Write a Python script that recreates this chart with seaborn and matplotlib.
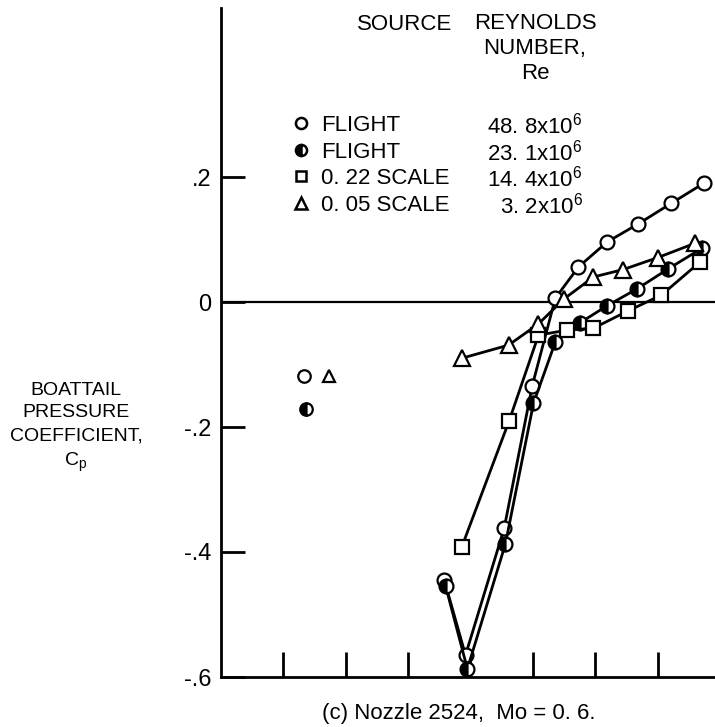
import numpy as np
import pandas as pd
import seaborn as sns
import matplotlib
matplotlib.use("Agg")
import matplotlib.pyplot as plt
from matplotlib.lines import Line2D

# ---------------- data ----------------
# horizontal position in tick units (ticks at 1..7), Cp on vertical axis
x_fl488 = [3.58, 3.92, 4.54, 4.99, 5.36, 5.73, 6.19, 6.69, 7.22, 7.74]
cp_fl488 = [-0.445, -0.565, -0.362, -0.134, 0.006, 0.056, 0.096, 0.125, 0.158, 0.190]

x_fl231 = [3.60, 3.95, 4.56, 5.01, 5.36, 5.76, 6.19, 6.67, 7.17, 7.71]
cp_fl231 = [-0.454, -0.587, -0.387, -0.162, -0.064, -0.033, -0.006, 0.021, 0.053, 0.086]

x_s022 = [3.86, 4.62, 5.09, 5.55, 5.97, 6.53, 7.06, 7.68]
cp_s022 = [-0.392, -0.190, -0.053, -0.045, -0.042, -0.014, 0.011, 0.064]

x_s005 = [3.86, 4.61, 5.09, 5.50, 5.97, 6.45, 7.00, 7.60]
cp_s005 = [-0.090, -0.069, -0.035, 0.005, 0.040, 0.052, 0.071, 0.094]

# isolated points at left
x_iso_fl488 = [1.33]
cp_iso_fl488 = [-0.118]
x_iso_fl231 = [1.36]
cp_iso_fl231 = [-0.171]
x_iso_s005 = [1.73]
cp_iso_s005 = [-0.118]

sources = ["FLIGHT", "FLIGHT", "0. 22 SCALE", "0. 05 SCALE"]
reynolds = ["48. 8x10$^6$", "23. 1x10$^6$", "14. 4x10$^6$", "3. 2x10$^6$"]

x_ticks = [1, 2, 3, 4, 5, 6, 7]
y_ticks = [0.2, 0.0, -0.2, -0.4, -0.6]
y_ticklabels = [".2", "0", "-.2", "-.4", "-.6"]

# ---------------- styling ----------------
sns.set_theme(style="white")
plt.rcParams['font.family'] = ['Liberation Sans', 'DejaVu Sans']
plt.rcParams['mathtext.fontset'] = 'custom'
plt.rcParams['mathtext.rm'] = 'Liberation Sans'
plt.rcParams['mathtext.it'] = 'Liberation Sans'
plt.rcParams['mathtext.bf'] = 'Liberation Sans'
FS = 16

W, H = 715, 727
fig = plt.figure(figsize=(W / 100, H / 100), dpi=100)
ax_left, ax_right, ax_bottom, ax_top = 221, 715, 677, 8
ax = fig.add_axes([ax_left / W, 1 - ax_bottom / H,
                   (ax_right - ax_left) / W, (ax_bottom - ax_top) / H])

ax.set_xlim(0.0, (ax_right - 220) / 62.5)
ax.set_ylim(-0.6, (302 - ax_top) / 625)

LW = 2.0
MS = 10
MEW = 1.6

common = dict(ax=ax, sort=False, estimator=None, color="black", lw=LW,
              ms=MS, mec="black", mew=MEW, clip_on=False, zorder=3)

sns.lineplot(x=x_fl488, y=cp_fl488, marker="o", mfc="white", **common)
sns.lineplot(x=x_fl231, y=cp_fl231, marker="o", mfc="black",
             fillstyle="left", markerfacecoloralt="white", **common)
sns.lineplot(x=x_s022, y=cp_s022, marker="s", mfc="white",
             **{**common, "ms": MS})
sns.lineplot(x=x_s005, y=cp_s005, marker="^", mfc="white",
             **{**common, "ms": MS + 1})

iso = dict(linestyle="none", color="black", mec="black", mew=MEW, ms=MS - 1)
ax.plot(x_iso_fl488, cp_iso_fl488, marker="o", mfc="white", **iso)
ax.plot(x_iso_fl231, cp_iso_fl231, marker="o", mfc="black",
        fillstyle="left", markerfacecoloralt="white", **iso)
ax.plot(x_iso_s005, cp_iso_s005, marker="^", mfc="white", **iso)

ax.axhline(0, color="black", lw=1.6, zorder=2)

# axes decoration
for s in ["top", "right"]:
    ax.spines[s].set_visible(False)
for s in ["left", "bottom"]:
    ax.spines[s].set_color("black")
    ax.spines[s].set_linewidth(2.0)

ax.set_xticks(x_ticks)
ax.set_xticklabels([])
ax.set_yticks(y_ticks)
ax.set_yticklabels(y_ticklabels)
ax.tick_params(axis="x", direction="in", length=18, width=2.0, color="black",
               bottom=True)
ax.tick_params(axis="y", direction="in", length=17, width=2.0, color="black",
               left=True, labelsize=FS + 1, pad=7, labelcolor="black")
ax.set_xlabel("")
ax.set_ylabel("")
ax.grid(False)

# y label block
fig.text(76 / W, 1 - 428 / H, "BOATTAIL\nPRESSURE\nCOEFFICIENT,\nC$_\\mathrm{p}$",
         ha="center", va="center", fontsize=14, linespacing=1.45, color="black")

# title at bottom
fig.text(459 / W, 1 - 713 / H, "(c) Nozzle 2524,  Mo = 0. 6.",
         ha="center", va="center", fontsize=FS, color="black")

# legend header
fig.text(357 / W, 1 - 24 / H, "SOURCE", ha="left", va="center",
         fontsize=FS, color="black")
fig.text(535 / W, 1 - 13 / H, "REYNOLDS\nNUMBER,\nRe", ha="center", va="top",
         fontsize=FS, linespacing=1.25, color="black")

# legend entries
handles = [
    Line2D([], [], linestyle="none", marker="o", ms=8, mfc="white", mec="black", mew=1.8),
    Line2D([], [], linestyle="none", marker="o", ms=8, mfc="black", fillstyle="left",
           markerfacecoloralt="white", mec="black", mew=1.8),
    Line2D([], [], linestyle="none", marker="s", ms=7.5, mfc="white", mec="black", mew=1.8),
    Line2D([], [], linestyle="none", marker="^", ms=8.5, mfc="white", mec="black", mew=1.8),
]
leg = ax.legend(handles, sources, loc="upper left",
                bbox_to_anchor=(292 / W, 1 - 115 / H), bbox_transform=fig.transFigure,
                frameon=False, fontsize=FS, handlelength=0.8, handletextpad=0.5,
                labelspacing=0.25, borderpad=0, borderaxespad=0)
for t in leg.get_texts():
    t.set_color("black")

fig.canvas.draw()
renderer = fig.canvas.get_renderer()
for t, re_txt in zip(leg.get_texts(), reynolds):
    bb = t.get_window_extent(renderer)
    yc = (bb.y0 + bb.y1) / 2 / (H)
    fig.text(583 / W, yc, re_txt, ha="right", va="center", fontsize=FS, color="black")

fig.savefig("out.png", dpi=100)
